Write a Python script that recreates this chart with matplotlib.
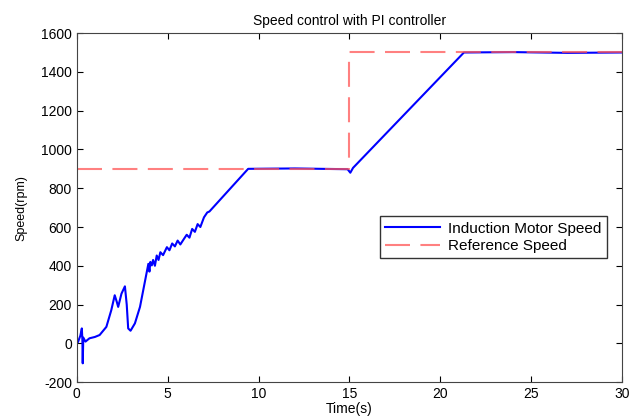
import numpy as np
import matplotlib
matplotlib.use("Agg")
import matplotlib.pyplot as plt

plt.rcParams['font.family'] = ['Liberation Sans', 'DejaVu Sans']
plt.rcParams['axes.unicode_minus'] = False

# motor speed (rpm)
t_motor = [0.0, 0.07, 0.2, 0.28, 0.31, 0.33, 0.36, 0.48, 0.7, 1.0, 1.26, 1.63, 1.9,
           2.09, 2.2, 2.28, 2.46, 2.65, 2.75, 2.83, 2.96, 3.2, 3.48, 3.94,
           4.0, 4.05, 4.13, 4.2, 4.3, 4.4, 4.5, 4.6, 4.75, 4.96, 5.1, 5.25, 5.4,
           5.55, 5.7, 5.9, 6.05, 6.2, 6.35, 6.5, 6.65, 6.8, 7.0, 7.18, 7.3,
           9.43, 12.0, 14.9, 15.05, 15.2, 21.3, 24.0, 27.0, 30.0]
v_motor = [0, 7, 40, 77, 20, -103, 30, 9, 26, 33, 43, 85, 171,
           248, 215, 188, 256, 294, 200, 77, 65, 103, 188, 410,
           370, 420, 402, 430, 400, 453, 430, 470, 455, 496, 480, 515, 500,
           530, 510, 539, 560, 545, 590, 575, 615, 600, 650, 675, 680,
           900, 902, 898, 880, 905, 1500, 1502, 1498, 1500]

# reference speed (rpm)
t_ref = [0, 15, 15, 30]
v_ref = [900, 900, 1500, 1500]

fig = plt.figure(figsize=(6.29, 4.19), dpi=100)
ax = fig.add_axes([0.122, 0.088, 0.867, 0.833])

ax.plot(t_motor, v_motor, color='#0000ff', lw=1.5, label='Induction Motor Speed')
ax.plot(t_ref, v_ref, color='#ff5555', lw=1.5, alpha=0.75, dashes=(12, 5),
        label='Reference Speed')

ax.set_xlim(0, 30)
ax.set_ylim(-200, 1600)
ax.set_xticks(np.arange(0, 31, 5))
ax.set_yticks(np.arange(-200, 1601, 200))
ax.tick_params(direction='in', top=True, right=True, labelsize=10, length=4)
for s in ax.spines.values():
    s.set_color('#444444')

ax.set_title('Speed control with PI controller', fontsize=10, pad=6)
ax.set_xlabel('Time(s)', fontsize=10, labelpad=1)
ax.set_ylabel('Speed(rpm)', fontsize=9, labelpad=10)

leg = ax.legend(loc='lower right', bbox_to_anchor=(0.972, 0.355), fontsize=11,
                fancybox=False, framealpha=1, edgecolor='#333333',
                handlelength=3.6, handletextpad=0.5, borderpad=0.35,
                borderaxespad=0, labelspacing=0.2)
leg.get_frame().set_linewidth(1.0)

fig.savefig('out.png', dpi=100)
